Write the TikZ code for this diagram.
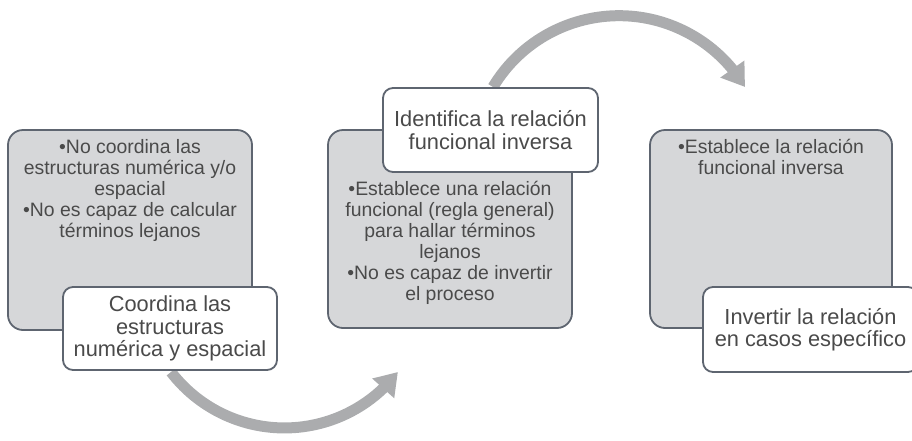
\documentclass[tikz,border=0pt]{standalone}
\usepackage{fontspec}
\setmainfont{Liberation Sans}
\usetikzlibrary{arrows.meta,bending}
\definecolor{boxfill}{HTML}{D6D7D9}
\definecolor{boxline}{HTML}{5E6570}
\definecolor{txt}{HTML}{4A4A4A}
\definecolor{arrowgray}{HTML}{ABACAE}
\tikzset{
  graybox/.style={draw=boxline, line width=1.8pt, fill=boxfill, rounded corners=15pt, inner sep=0pt},
  whitebox/.style={draw=boxline, line width=1.8pt, fill=white, rounded corners=10pt, inner sep=0pt,
     text=txt, align=center, font=\fontsize{21.8}{22.5}\selectfont},
  graytext/.style={text=txt, align=center, inner sep=0pt, anchor=north, font=\fontsize{19.4}{21}\selectfont},
  bigarrow/.style={draw=arrowgray, line width=11pt, -{Triangle[width=28pt,length=22pt,flex]}}
}
\begin{document}
\begin{tikzpicture}[x=1pt,y=-1pt]
\useasboundingbox (0,0) rectangle (912,440);
\clip (0,0) rectangle (912,440);
% arrows (behind boxes)
\coordinate (a1s) at (171,372);
\coordinate (a2s) at (493,87);
\draw[bigarrow] (a1s) arc[start angle=142.5, end angle=37.5, radius=143];
\draw[bigarrow] (a2s) arc[start angle=211, end angle=329, radius=147];
% gray boxes
\node[graybox, minimum width=244pt, minimum height=200pt] (g1) at (130,230) {};
\node[graybox, minimum width=244pt, minimum height=198pt] (g2) at (450,229) {};
\node[graybox, minimum width=242pt, minimum height=198pt] (g3) at (771,229) {};
\node[graytext] (g1t) at (130,139) {•No coordina las\\estructuras numérica y/o\\espacial\\•No es capaz de calcular\\términos lejanos};
\node[graytext] (g2t) at (450,181) {•Establece una relación\\funcional (regla general)\\para hallar términos\\lejanos\\•No es capaz de invertir\\el proceso};
\node[graytext] (g3t) at (771,139) {•Establece la relación\\funcional inversa};
% white boxes
\node[whitebox, minimum width=214pt, minimum height=83pt] (w1) at (170,328.5) {Coordina las\\estructuras\\numérica y espacial};
\node[whitebox, minimum width=215pt, minimum height=84pt] (w2) at (490.5,130) {Identifica la relación\\funcional inversa};
\node[whitebox, minimum width=215pt, minimum height=85pt] (w3) at (810.5,329.5) {Invertir la relación\\en casos específico};
\end{tikzpicture}
\end{document}
